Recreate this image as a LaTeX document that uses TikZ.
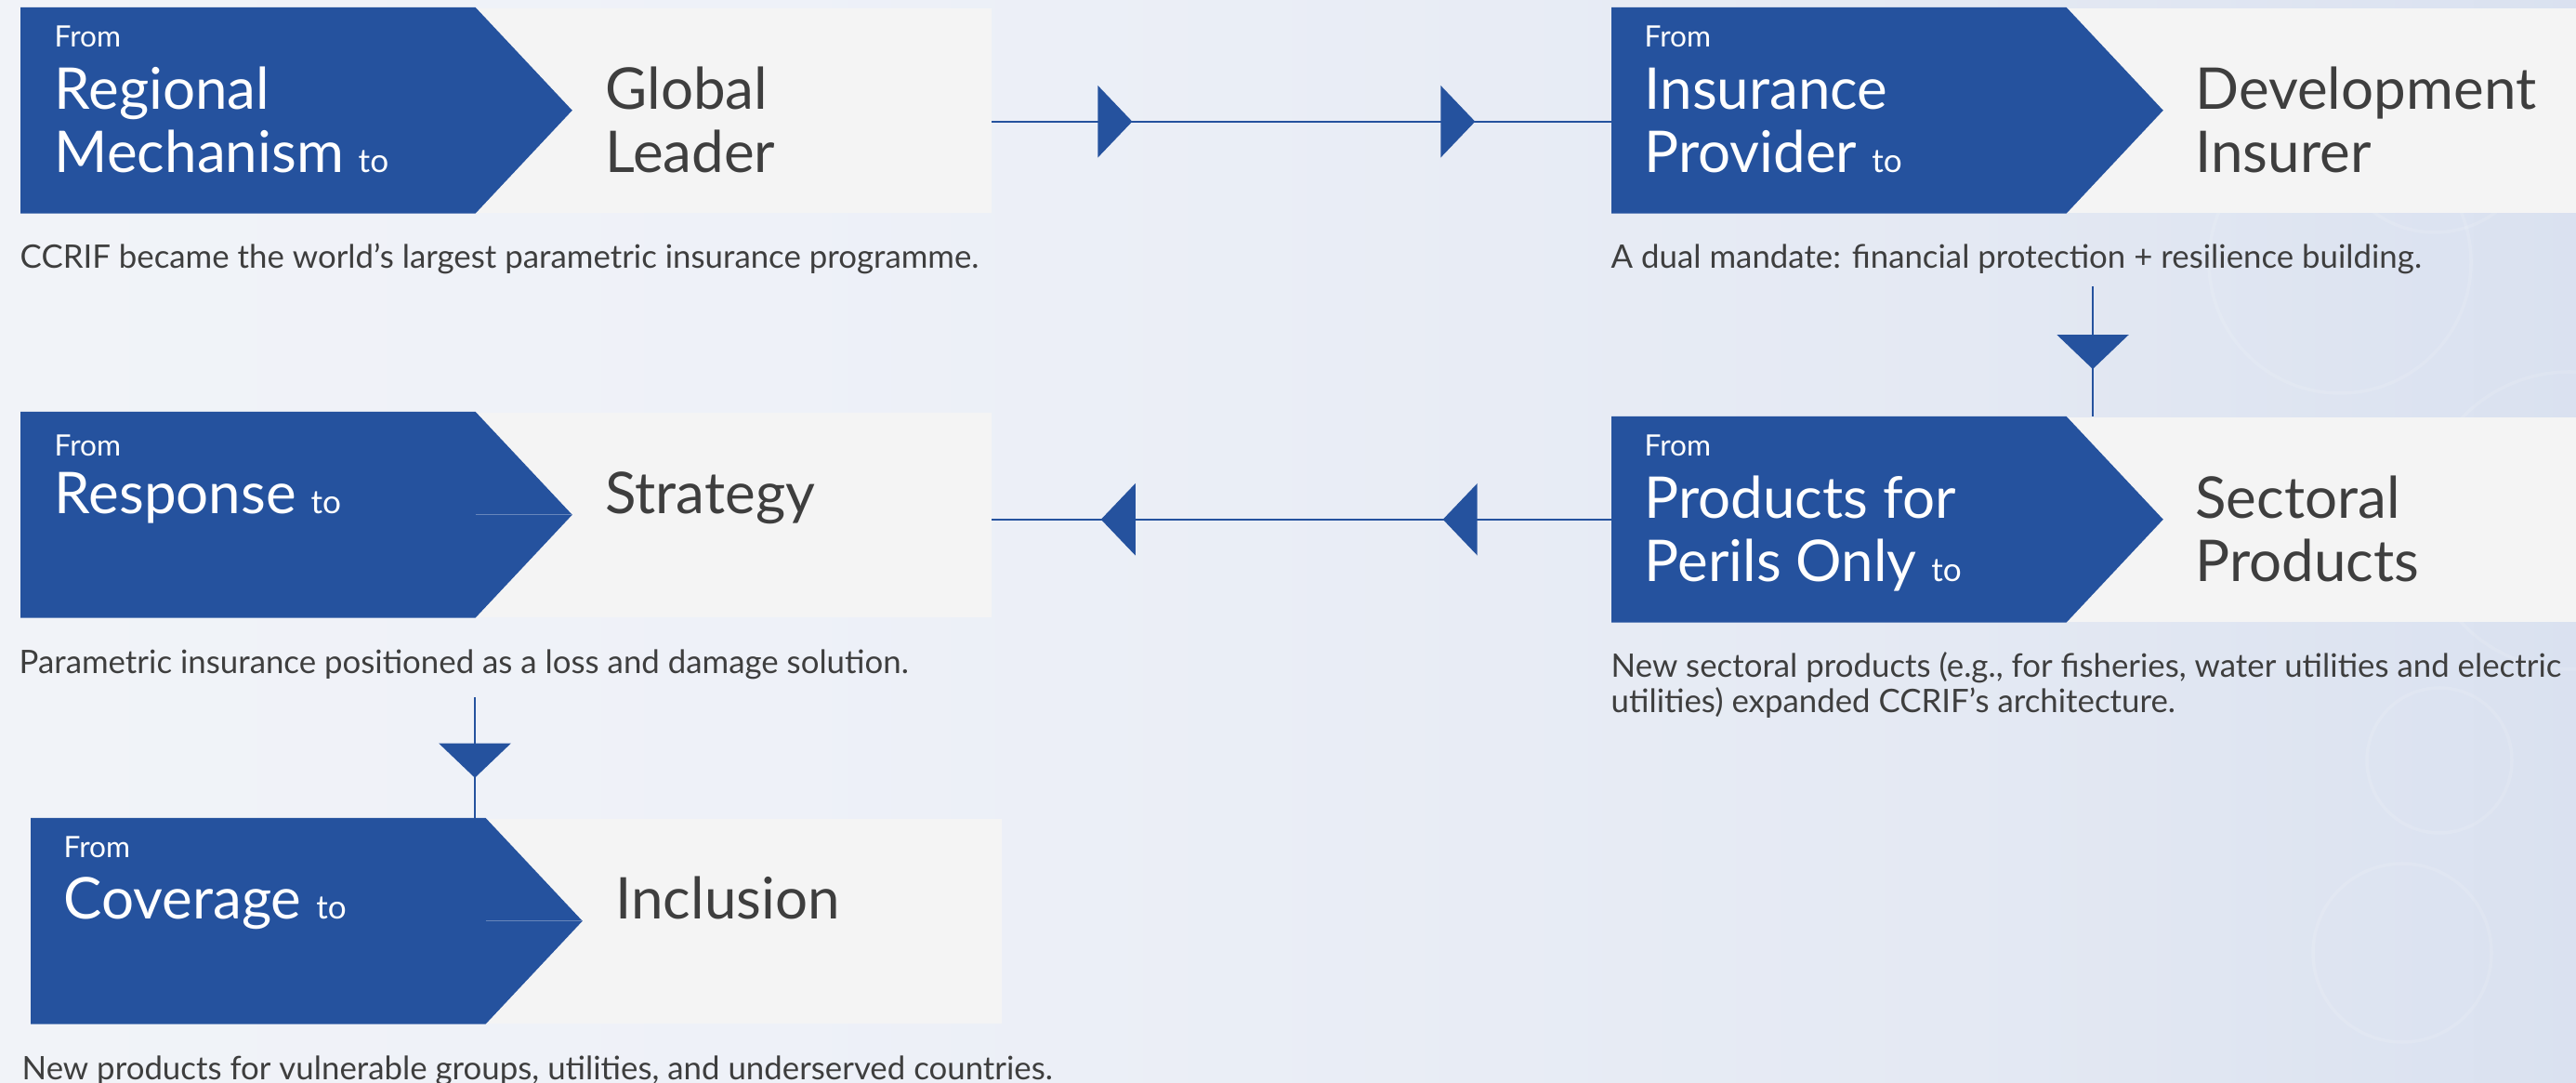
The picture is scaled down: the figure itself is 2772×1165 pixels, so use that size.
\documentclass[tikz,border=0pt]{standalone}
\usepackage{fontspec}
\setmainfont{Lato}
\usetikzlibrary{positioning,calc,arrows.meta,decorations.markings}

\definecolor{ccblue}{HTML}{25529E}
\definecolor{boxgrey}{HTML}{F4F4F4}
\definecolor{txtgrey}{HTML}{3E3E3E}
\definecolor{bgA}{HTML}{F6F7F9}
\definecolor{bgB}{HTML}{EEF1F8}
\definecolor{bgC}{HTML}{E4E9F3}
\definecolor{bgD}{HTML}{D3DCEE}
\definecolor{bgE}{HTML}{BCCAE7}
\pgfdeclarehorizontalshading{bgshade}{100bp}{color(0bp)=(bgA); color(40bp)=(bgB); color(63bp)=(bgC); color(83bp)=(bgD); color(100bp)=(bgE)}

\newcommand{\tosmall}{{\fontsize{10}{11}\selectfont to}}

\begin{document}
\begin{tikzpicture}[
		x=0.01cm, y=-0.01cm,
		frombox/.style={minimum width=4.88cm, minimum height=2.2cm, inner sep=0pt, anchor=north west},
		tobox/.style={fill=boxgrey, minimum width=5.54cm, minimum height=2.2cm, inner sep=0pt},
		fromlbl/.style={anchor=base west, text=white, font=\fontsize{9}{10}\selectfont, inner sep=0pt},
		headw/.style={anchor=base west, text=white, font=\fontsize{17.6}{20}\selectfont, inner sep=0pt},
		headg/.style={headw, text=txtgrey},
		caption/.style={anchor=base west, text=txtgrey, font=\fontsize{9.9}{10.8}\selectfont, inner sep=0pt, align=left},
		link/.style={ccblue, line width=0.7pt},
		seam/.style={ccblue!70!white, line width=0.4pt},
		onetip/.style={postaction={decorate}, decoration={markings,
				mark=at position #1 with {\arrow{Triangle[width=0.77cm,length=0.37cm]}}}},
		twotips/.style 2 args={postaction={decorate}, decoration={markings,
				mark=at position #1 with {\arrow{Triangle[width=0.77cm,length=0.37cm]}},
				mark=at position #2 with {\arrow{Triangle[width=0.77cm,length=0.37cm]}}}}
		]
		\useasboundingbox (0,0) rectangle (2772,1165);
		\clip (0,0) rectangle (2772,1165);
		% background
		\shade[shading=bgshade] (0,0) rectangle (2772,1165);
		\foreach \cx/\cy/\r in {2518/282/141, 2625/818/78, 2585/1025/96, 2765/560/160, 2620/140/110}
		\draw[white, opacity=0.12, line width=1pt] (\cx,\cy) circle[radius=\r];
		
		% regional mechanism -> global leader
		\node[frombox] (reg) at (22,8) {};
		\node[tobox, right=0pt of reg] (glob) {};
		\fill[ccblue] (reg.north west) -- (reg.north east) -- ([xshift=1.04cm]reg.east) -- (reg.south east) -- (reg.south west) -- cycle;
		\node[fromlbl] at ([xshift=0.36cm,yshift=-0.42cm]reg.north west) {From};
		\node[headw] at ([xshift=0.36cm,yshift=-1.09cm]reg.north west) {Regional};
		\node[headw] at ([xshift=0.36cm,yshift=-1.77cm]reg.north west) {Mechanism \tosmall};
		\node[headg] at ([xshift=1.39cm,yshift=-1.09cm]glob.north west) {Global};
		\node[headg] at ([xshift=1.39cm,yshift=-1.77cm]glob.north west) {Leader};
		\node[caption] (cap1) at ([xshift=-0.01cm,yshift=-0.59cm]reg.south west) {CCRIF became the world’s largest parametric insurance programme.};
		
		% insurance provider -> development insurer
		\node[frombox] (ins) at (1734,8) {};
		\node[tobox, right=0pt of ins] (dev) {};
		\fill[ccblue] (ins.north west) -- (ins.north east) -- ([xshift=1.04cm]ins.east) -- (ins.south east) -- (ins.south west) -- cycle;
		\node[fromlbl] at ([xshift=0.35cm,yshift=-0.42cm]ins.north west) {From};
		\node[headw] at ([xshift=0.35cm,yshift=-1.09cm]ins.north west) {Insurance};
		\node[headw] at ([xshift=0.35cm,yshift=-1.77cm]ins.north west) {Provider \tosmall};
		\node[headg] at ([xshift=1.38cm,yshift=-1.09cm]dev.north west) {Development};
		\node[headg] at ([xshift=1.38cm,yshift=-1.77cm]dev.north west) {Insurer};
		\node[caption] (cap2) at ([xshift=-0.01cm,yshift=-0.59cm]ins.south west) {A dual mandate: financial protection + resilience building.};
		
		% products for perils only -> sectoral products
		\node[frombox] (per) at (1734,448) {};
		\node[tobox, right=0pt of per] (sec) {};
		\fill[ccblue] (per.north west) -- (per.north east) -- ([xshift=1.04cm]per.east) -- (per.south east) -- (per.south west) -- cycle;
		\node[fromlbl] at ([xshift=0.35cm,yshift=-0.42cm]per.north west) {From};
		\node[headw] at ([xshift=0.35cm,yshift=-1.09cm]per.north west) {Products for};
		\node[headw] at ([xshift=0.35cm,yshift=-1.77cm]per.north west) {Perils Only \tosmall};
		\node[headg] at ([xshift=1.38cm,yshift=-1.09cm]sec.north west) {Sectoral};
		\node[headg] at ([xshift=1.38cm,yshift=-1.77cm]sec.north west) {Products};
		\node[caption] (cap3) at ([xshift=-0.01cm,yshift=-0.97cm]per.south west) {New sectoral products (e.g., for fisheries, water utilities and electric\\utilities) expanded CCRIF’s architecture.};
		
		% response -> strategy
		\node[frombox] (resp) at (22,443) {};
		\node[tobox, right=0pt of resp] (strat) {};
		\fill[ccblue] (resp.north west) -- (resp.north east) -- ([xshift=1.04cm]resp.east) -- (resp.south east) -- (resp.south west) -- cycle;
		\draw[seam] (resp.east) -- ([xshift=1.04cm]resp.east);
		\node[fromlbl] at ([xshift=0.36cm,yshift=-0.47cm]resp.north west) {From};
		\node[headw] at ([xshift=0.36cm,yshift=-1.09cm]resp.north west) {Response \tosmall};
		\node[headg] at ([xshift=1.39cm,yshift=-1.09cm]strat.north west) {Strategy};
		\node[caption] (cap4) at ([xshift=-0.02cm,yshift=-0.6cm]resp.south west) {Parametric insurance positioned as a loss and damage solution.};
		
		% coverage -> inclusion
		\node[frombox] (cov) at (33,880) {};
		\node[tobox, right=0pt of cov] (incl) {};
		\fill[ccblue] (cov.north west) -- (cov.north east) -- ([xshift=1.04cm]cov.east) -- (cov.south east) -- (cov.south west) -- cycle;
		\draw[seam] (cov.east) -- ([xshift=1.04cm]cov.east);
		\node[fromlbl] at ([xshift=0.35cm,yshift=-0.42cm]cov.north west) {From};
		\node[headw] at ([xshift=0.35cm,yshift=-1.08cm]cov.north west) {Coverage \tosmall};
		\node[headg] at ([xshift=1.39cm,yshift=-1.08cm]incl.north west) {Inclusion};
		\node[caption] (cap5) at ([xshift=-0.1cm,yshift=-0.6cm]cov.south west) {New products for vulnerable groups, utilities, and underserved countries.};
		
		% connectors
		\coordinate (d1) at (2252,308);
		\coordinate (d2) at (511,750);
		\draw[link, twotips={0.2265}{0.78}] ([yshift=-0.12cm]glob.east) -- ([yshift=-0.12cm]ins.west);
		\draw[link, onetip=0.636] (d1) -- (d1 |- per.north);
		\draw[link, twotips={0.272}{0.824}] (per.west) -- (per.west -| strat.east);
		\draw[link, onetip=0.667] (d2) -- (d2 |- cov.north);
	\end{tikzpicture}
\end{document}
